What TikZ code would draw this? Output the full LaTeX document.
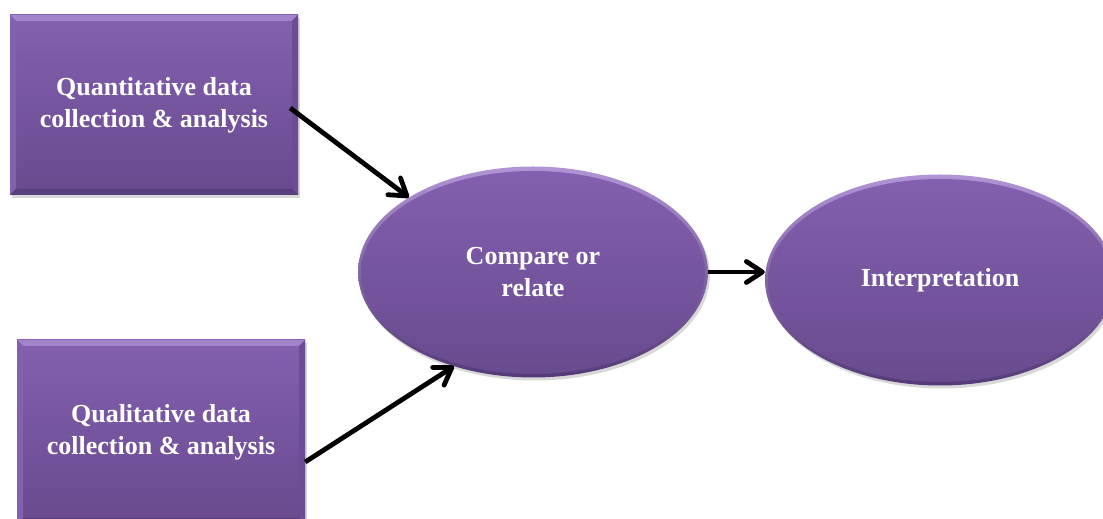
\documentclass[tikz,border=0pt]{standalone}
\usepackage{fontspec}
\setmainfont{Liberation Serif}
\usetikzlibrary{arrows.meta,shapes.geometric,shadows,calc}

\definecolor{fillTop}{RGB}{132,96,176}
\definecolor{fillBot}{RGB}{104,74,142}
\definecolor{rimLight}{RGB}{176,148,214}
\definecolor{rimDark}{RGB}{84,58,118}
\definecolor{bevTop}{RGB}{162,132,204}
\definecolor{bevLeft}{RGB}{130,98,174}
\definecolor{bevRight}{RGB}{108,76,148}
\definecolor{bevBot}{RGB}{88,62,124}

\begin{document}
\begin{tikzpicture}[x=1pt,y=1pt,
  label text/.style={text=white,font=\bfseries\fontsize{26}{32}\selectfont,align=center},
  bevelbox/.style={label text,rectangle,inner sep=0pt,
    minimum width=288pt,minimum height=180pt,
    top color=fillTop,bottom color=fillBot,
    drop shadow={opacity=0.3,shadow xshift=2pt,shadow yshift=-3pt},
    path picture={
      \fill[bevTop] (path picture bounding box.north west) -- (path picture bounding box.north east)
        -- ([shift={(-6,-6)}]path picture bounding box.north east) -- ([shift={(6,-6)}]path picture bounding box.north west) -- cycle;
      \fill[bevLeft] (path picture bounding box.north west) -- (path picture bounding box.south west)
        -- ([shift={(6,6)}]path picture bounding box.south west) -- ([shift={(6,-6)}]path picture bounding box.north west) -- cycle;
      \fill[bevRight] (path picture bounding box.north east) -- (path picture bounding box.south east)
        -- ([shift={(-6,6)}]path picture bounding box.south east) -- ([shift={(-6,-6)}]path picture bounding box.north east) -- cycle;
      \fill[bevBot] (path picture bounding box.south west) -- (path picture bounding box.south east)
        -- ([shift={(-6,6)}]path picture bounding box.south east) -- ([shift={(6,6)}]path picture bounding box.south west) -- cycle;
    }},
  bevelellipse/.style={label text,ellipse,inner sep=0pt,
    minimum width=350pt,minimum height=211pt,
    top color=rimLight,bottom color=rimDark,
    drop shadow={opacity=0.3,shadow xshift=2pt,shadow yshift=-3pt},
    path picture={
      \shade[top color=fillTop,bottom color=fillBot]
        ([yshift=-0.5pt]path picture bounding box.center) ellipse [x radius=172, y radius=101.5];
    }},
  link/.style={line width=4.8pt,line join=round,
    -{Straight Barb[length=16pt,width=21pt,line cap=round,line join=round]}}
]
\useasboundingbox[fill=white] (0,0) rectangle (1103,519);

% left column: the two data strands
\node[bevelbox] (quant) at (154,414) {Quantitative data\\collection \& analysis};
\node[bevelbox,minimum height=184pt] (qual) at (161,87) {Qualitative data\\collection \& analysis};

% merging step and result
\node[bevelellipse] (comp) at (533,247) {Compare or\\relate};
\node[bevelellipse] (interp) at (940,239) {Interpretation};

% connectors
\draw[link] ([xshift=-8pt,yshift=-3pt]quant.east) -- (comp.149);
\draw[link] ([yshift=-30pt]qual.east) -- (comp.230);
\draw[link] (comp.east) -- (comp.east -| interp.west);
\end{tikzpicture}
\end{document}
